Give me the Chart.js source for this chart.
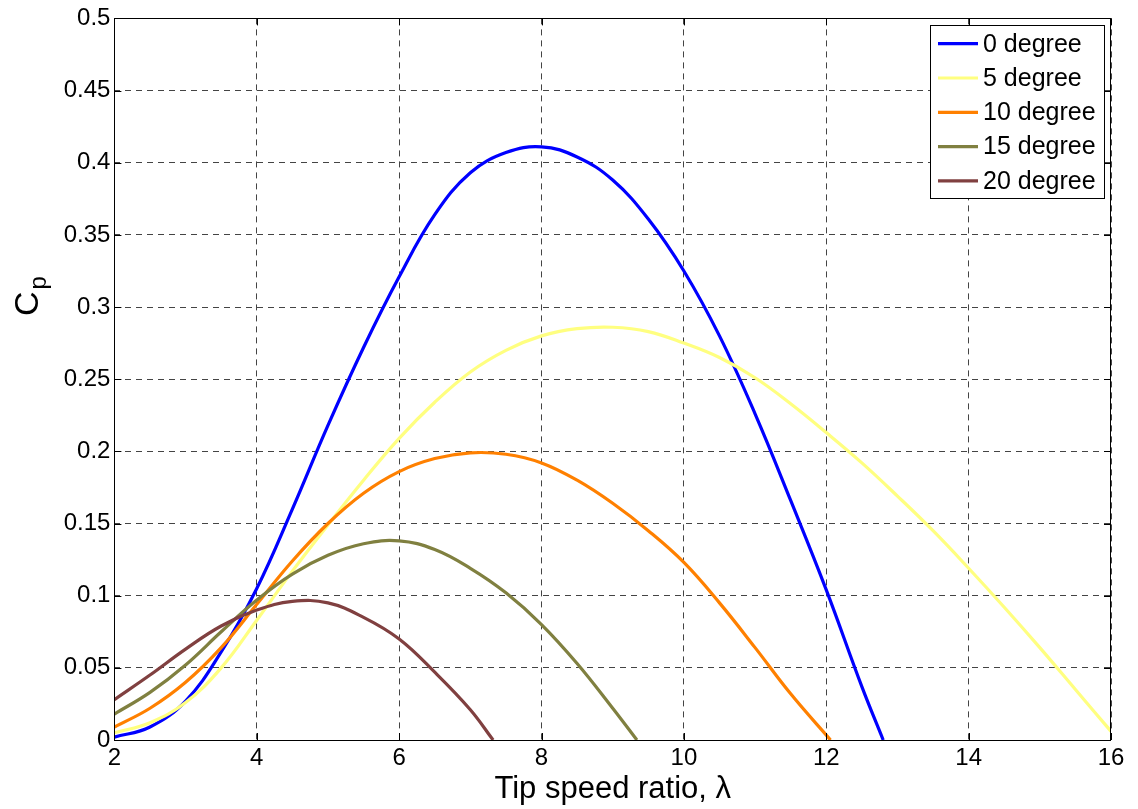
<!DOCTYPE html>
<html>
<head>
<meta charset="utf-8">
<script src="https://cdn.jsdelivr.net/npm/chart.js@4.4.1/dist/chart.umd.min.js"></script>
<style>
  html, body { margin: 0; padding: 0; background: #ffffff; }
  #wrap { position: relative; width: 1138px; height: 809px; }
</style>
</head>
<body>
<div id="wrap"><canvas id="c" width="1138" height="809"></canvas></div>
<script>
// ---- Data ----
const seriesLabels = ['0 degree', '5 degree', '10 degree', '15 degree', '20 degree'];

const lambda0 = [2, 2.5, 3, 3.5, 4, 4.5, 5, 5.5, 6, 6.5, 7, 7.5, 8, 8.5, 9, 9.5, 10, 10.5, 11, 11.5, 12, 12.5, 12.8];
const cp0     = [0.002, 0.009, 0.027, 0.061, 0.105, 0.160, 0.218, 0.272, 0.321, 0.364, 0.393, 0.407, 0.411, 0.404, 0.388, 0.361, 0.325, 0.280, 0.226, 0.166, 0.104, 0.037, 0];

const lambda5 = [2, 2.5, 3, 3.5, 4, 4.5, 5, 5.5, 6, 6.5, 7, 7.5, 8, 8.5, 9, 9.5, 10, 10.5, 11, 11.5, 12, 12.5, 13, 13.5, 14, 14.5, 15, 15.5, 16];
const cp5     = [0.005, 0.012, 0.026, 0.050, 0.083, 0.117, 0.149, 0.180, 0.209, 0.234, 0.255, 0.270, 0.280, 0.285, 0.286, 0.283, 0.275, 0.265, 0.251, 0.233, 0.213, 0.192, 0.169, 0.145, 0.119, 0.092, 0.064, 0.035, 0.006];

const lambda10 = [2, 2.5, 3, 3.5, 4, 4.5, 5, 5.5, 6, 6.5, 7, 7.5, 8, 8.5, 9, 9.5, 10, 10.5, 11, 11.5, 12.06];
const cp10     = [0.009, 0.022, 0.040, 0.064, 0.094, 0.124, 0.150, 0.171, 0.186, 0.195, 0.199, 0.198, 0.192, 0.180, 0.164, 0.145, 0.123, 0.095, 0.064, 0.032, 0];

const lambda15 = [2, 2.5, 3, 3.5, 4, 4.5, 5, 5.5, 6, 6.5, 7, 7.5, 8, 8.5, 9, 9.34];
const cp15     = [0.018, 0.033, 0.052, 0.075, 0.097, 0.115, 0.128, 0.136, 0.138, 0.132, 0.119, 0.102, 0.080, 0.053, 0.022, 0];

const lambda20 = [2, 2.5, 3, 3.5, 4, 4.5, 5, 5.5, 6, 6.5, 7, 7.32];
const cp20     = [0.028, 0.045, 0.063, 0.079, 0.090, 0.096, 0.095, 0.085, 0.070, 0.047, 0.021, 0];

const xTickLabels = ['2', '4', '6', '8', '10', '12', '14', '16'];
const yTickLabels = ['0', '0.05', '0.1', '0.15', '0.2', '0.25', '0.3', '0.35', '0.4', '0.45', '0.5'];

const xTitle = 'Tip speed ratio, \u03bb';
const yTitleMain = 'C';
const yTitleSub = 'p';

// ---- Styles ----
const colors = ['#0000ff', '#ffff80', '#ff8000', '#808040', '#804040'];
const FONT = "'Liberation Sans', Arial, Helvetica, sans-serif";

function pts(xs, ys) { return xs.map((x, i) => ({ x: x, y: ys[i] })); }
const allLambda = [lambda0, lambda5, lambda10, lambda15, lambda20];
const allCp = [cp0, cp5, cp10, cp15, cp20];

const datasets = seriesLabels.map((lab, i) => ({
  label: lab,
  data: pts(allLambda[i], allCp[i]),
  borderColor: colors[i],
  backgroundColor: colors[i],
  borderWidth: 3.2,
  pointRadius: 0,
  tension: 0.4,
  fill: false,
  order: 5 - i
}));

const frameAndLegend = {
  id: 'frameAndLegend',
  afterDatasetsDraw(chart) {
    const ctx = chart.ctx;
    const a = chart.chartArea;
    const xs = chart.scales.x, ys = chart.scales.y;
    ctx.save();
    // frame
    ctx.strokeStyle = '#000';
    ctx.lineWidth = 1;
    ctx.setLineDash([]);
    ctx.strokeRect(Math.round(a.left) + 0.5, Math.round(a.top) + 0.5, Math.round(a.right - a.left) - 1, Math.round(a.bottom - a.top));
    // inner tick marks
    const tl = 7;
    ctx.beginPath();
    xs.ticks.forEach(t => {
      const px = Math.round(xs.getPixelForValue(t.value)) + 0.5;
      ctx.moveTo(px, a.bottom); ctx.lineTo(px, a.bottom - tl);
      ctx.moveTo(px, a.top); ctx.lineTo(px, a.top + tl);
    });
    ys.ticks.forEach(t => {
      const py = Math.round(ys.getPixelForValue(t.value)) + 0.5;
      ctx.moveTo(a.left, py); ctx.lineTo(a.left + tl, py);
      ctx.moveTo(a.right, py); ctx.lineTo(a.right - tl, py);
    });
    ctx.stroke();

    // legend box
    const bx = 930.5, by = 25.5, bw = 174, bh = 173;
    ctx.fillStyle = '#fff';
    ctx.fillRect(bx, by, bw, bh);
    ctx.strokeStyle = '#000';
    ctx.lineWidth = 1;
    ctx.strokeRect(bx, by, bw, bh);
    ctx.font = '25px ' + FONT;
    ctx.textBaseline = 'middle';
    ctx.textAlign = 'left';
    chart.data.datasets.forEach((ds, i) => {
      const y = 43.7 + i * 34.3;
      ctx.strokeStyle = ds.borderColor;
      ctx.lineWidth = 3.2;
      ctx.beginPath();
      ctx.moveTo(938, y); ctx.lineTo(978, y);
      ctx.stroke();
      ctx.fillStyle = '#000';
      ctx.fillText(ds.label, 983, y + 1);
    });

    // y-axis title  C_p
    ctx.fillStyle = '#000';
    ctx.translate(38, 316);
    ctx.rotate(-Math.PI / 2);
    ctx.textBaseline = 'alphabetic';
    ctx.font = '34px ' + FONT;
    ctx.fillText(yTitleMain, 0, 0);
    const w = ctx.measureText(yTitleMain).width;
    ctx.font = '24px ' + FONT;
    ctx.fillText(yTitleSub, w + 2, 8);
    ctx.restore();
  }
};

new Chart(document.getElementById('c'), {
  type: 'line',
  data: { datasets: datasets },
  plugins: [frameAndLegend],
  options: {
    responsive: false,
    animation: false,
    devicePixelRatio: 1,
    layout: { padding: { left: 0, top: 18, right: 27, bottom: 0 } },
    plugins: { legend: { display: false }, tooltip: { enabled: false } },
    scales: {
      x: {
        type: 'linear',
        min: 2, max: 16,
        afterFit(scale) { scale.height = 69; },
        ticks: {
          stepSize: 2,
          color: '#000',
          font: { family: FONT, size: 24 },
          padding: 4,
          maxRotation: 0,
          callback: (v, i) => xTickLabels[i]
        },
        grid: { color: '#444', lineWidth: 1, drawTicks: false },
        border: { display: false, dash: [6, 5] },
        title: {
          display: true,
          text: xTitle,
          color: '#000',
          font: { family: FONT, size: 31 },
          padding: { top: 0, bottom: 1 }
        }
      },
      y: {
        type: 'linear',
        min: 0, max: 0.5,
        afterFit(scale) { scale.width = 114.4; },
        ticks: {
          stepSize: 0.05,
          color: '#000',
          font: { family: FONT, size: 24 },
          padding: 4,
          callback: (v, i) => yTickLabels[i]
        },
        grid: { color: '#444', lineWidth: 1, drawTicks: false },
        border: { display: false, dash: [6, 5] }
      }
    }
  }
});
</script>
</body>
</html>
